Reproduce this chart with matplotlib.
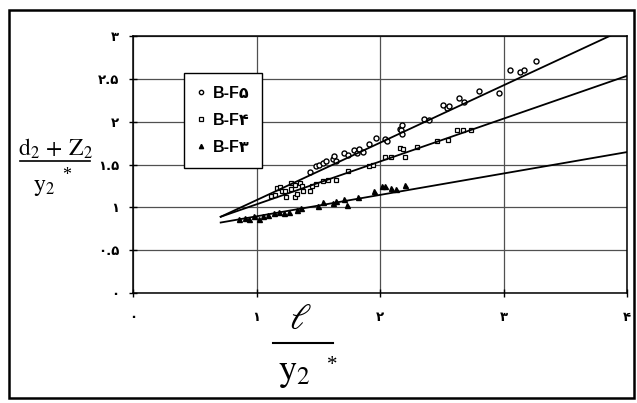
import numpy as np
import matplotlib
matplotlib.use('Agg')
import matplotlib.pyplot as plt
from matplotlib.lines import Line2D
from matplotlib.patches import Rectangle
from matplotlib.font_manager import FontProperties

# ---- data ----
x5 = [1.43, 1.48, 1.51, 1.54, 1.56, 1.62, 1.63, 1.64, 1.71, 1.74, 1.79, 1.81, 1.83, 1.86,
      1.91, 1.97, 2.04, 2.06, 2.16, 2.17, 2.18, 2.18, 2.36, 2.40, 2.51, 2.54, 2.56, 2.64,
      2.68, 2.80, 2.96, 3.05, 3.13, 3.17, 3.26]
y5 = [1.41, 1.48, 1.49, 1.52, 1.54, 1.56, 1.60, 1.54, 1.635, 1.61, 1.67, 1.64, 1.685, 1.65,
      1.74, 1.81, 1.80, 1.77, 1.92, 1.90, 1.96, 1.86, 2.03, 2.02, 2.19, 2.16, 2.18, 2.28,
      2.23, 2.36, 2.33, 2.60, 2.58, 2.60, 2.71]

x4 = [1.12, 1.15, 1.17, 1.19, 1.21, 1.23, 1.24, 1.28, 1.28, 1.31, 1.31, 1.33, 1.35, 1.37,
      1.38, 1.43, 1.45, 1.48, 1.54, 1.58, 1.64, 1.74, 1.91, 1.94, 2.04, 2.09, 2.16, 2.19,
      2.20, 2.30, 2.46, 2.55, 2.62, 2.67, 2.74]
y4 = [1.13, 1.14, 1.23, 1.24, 1.19, 1.19, 1.12, 1.28, 1.21, 1.26, 1.12, 1.16, 1.28, 1.25,
      1.19, 1.19, 1.25, 1.27, 1.31, 1.32, 1.32, 1.42, 1.48, 1.50, 1.585, 1.59, 1.69, 1.68,
      1.59, 1.71, 1.77, 1.79, 1.90, 1.90, 1.90]

x3 = [0.86, 0.91, 0.94, 0.98, 1.02, 1.05, 1.09, 1.14, 1.18, 1.22, 1.26, 1.33, 1.36, 1.50,
      1.54, 1.62, 1.64, 1.71, 1.73, 1.82, 1.95, 2.02, 2.04, 2.09, 2.13, 2.20]
y3 = [0.86, 0.88, 0.86, 0.90, 0.86, 0.90, 0.91, 0.93, 0.95, 0.93, 0.94, 0.97, 0.99, 1.01,
      1.06, 1.05, 1.07, 1.10, 1.03, 1.12, 1.19, 1.25, 1.25, 1.23, 1.21, 1.26]

series_labels = ['B-F\u06f5', 'B-F\u06f4', 'B-F\u06f3']
fit_slopes = [0.67, 0.50, 0.25]
fit_intercepts = [0.414, 0.535, 0.645]
fit_x = [0.71, 4.0]

x_ticks = [0, 1, 2, 3, 4]
x_tick_labels = ['\u06f0', '\u06f1', '\u06f2', '\u06f3', '\u06f4']
y_ticks = [0, 0.5, 1, 1.5, 2, 2.5, 3]
y_tick_labels = ['\u06f0', '\u06f0.\u06f5', '\u06f1', '\u06f1.\u06f5', '\u06f2', '\u06f2.\u06f5', '\u06f3']

# ---- figure ----
plt.rcParams['mathtext.fontset'] = 'stix'
W, H = 637, 403
fig = plt.figure(figsize=(W / 100, H / 100), dpi=100)
ax = fig.add_axes([133 / W, 1 - 293 / H, (627 - 133) / W, (293 - 36) / H])
ax.set_xlim(0, 4)
ax.set_ylim(0, 3)
ax.grid(True, color='#505050', lw=0.9)
ax.set_axisbelow(True)
for sp in ax.spines.values():
    sp.set_color('black')
    sp.set_linewidth(1.1)

ax.set_xticks(x_ticks)
ax.set_xticklabels(x_tick_labels)
ax.set_yticks(y_ticks)
ax.set_yticklabels(y_tick_labels)
ax.tick_params(direction='inout', length=6, width=1, colors='black', labelsize=9.5)
ax.tick_params(axis='x', pad=10)
ax.tick_params(axis='y', pad=7)
for lab in ax.get_xticklabels() + ax.get_yticklabels():
    lab.set_fontweight('bold')
    lab.set_family('DejaVu Sans')

h5, = ax.plot(x5, y5, 'o', mfc='white', mec='black', ms=3.6, mew=1.0, label=series_labels[0])
h4, = ax.plot(x4, y4, 's', mfc='white', mec='black', ms=3.2, mew=0.9, label=series_labels[1])
h3, = ax.plot(x3, y3, '^', mfc='black', mec='black', ms=3.6, label=series_labels[2])
for s, b in zip(fit_slopes, fit_intercepts):
    ax.plot(fit_x, [b + s * xx for xx in fit_x], color='black', lw=1.3)

leg = ax.legend(handles=[h5, h4, h3], loc='upper left', bbox_to_anchor=(0.103, 0.856),
                frameon=True, fancybox=False, edgecolor='black', framealpha=1,
                prop=FontProperties(family=['Liberation Sans', 'DejaVu Sans'], weight='bold', size=11.5),
                handlelength=0.6, handletextpad=0.4, borderpad=0.8, labelspacing=0.75,
                borderaxespad=0, markerscale=0.85)
leg.get_frame().set_linewidth(1.0)


def ftext(x, y, s, **kw):
    fig.text(x / W, 1 - y / H, s, **kw)


def fline(x0, x1, y, lw=1.2):
    fig.add_artist(Line2D([x0 / W, x1 / W], [1 - y / H, 1 - y / H], color='black', lw=lw,
                          transform=fig.transFigure))


# y-axis label as a fraction
ftext(55, 149, r'$\mathrm{d}_2\,+\,\mathrm{Z}_2$', fontsize=17, ha='center', va='center')
fline(20, 90, 161)
ftext(44, 186, r'$\mathrm{y}_2$', fontsize=17, ha='center', va='center')
ftext(67, 175, '*', fontsize=13, ha='center', va='center', family='Liberation Serif')

# x-axis label as a fraction
ftext(300, 319, r'$\ell$', fontsize=26, ha='center', va='center')
fline(273, 333, 343, lw=1.5)
ftext(294, 373, r'$\mathrm{y}_2$', fontsize=26, ha='center', va='center')
ftext(332, 366, '*', fontsize=15, ha='center', va='center', family='Liberation Serif')

# outer border
fig.add_artist(Rectangle((9 / W, 5 / H), (634 - 9) / W, (393 - 5) / H, transform=fig.transFigure,
                         fill=False, lw=1.8, ec='black'))

fig.savefig('out.png', dpi=100)
